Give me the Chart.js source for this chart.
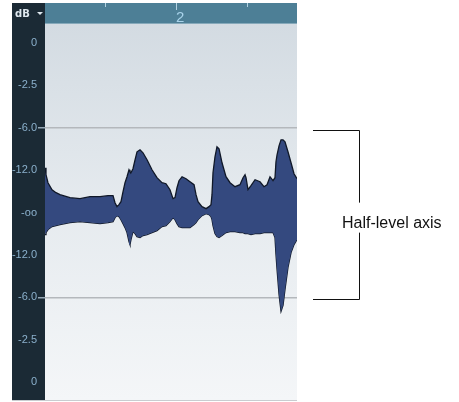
<!DOCTYPE html>
<html><head><meta charset="utf-8">
<script src="https://cdn.jsdelivr.net/npm/chart.js@4.4.0/dist/chart.umd.min.js"></script>
<style>html,body{margin:0;padding:0;background:#fff;overflow:hidden}#wrap{position:relative;width:459px;height:402px}</style>
</head><body><div id="wrap"><canvas id="c" width="459" height="402"></canvas></div>
<script>
// time position in beats (bar 2 starts at beat 4)
const timeBeats = [2.155,2.169,2.197,2.254,2.310,2.366,2.507,2.648,2.789,2.930,3.042,3.113,3.141,3.169,3.197,3.225,3.254,3.282,3.310,3.338,3.352,3.366,3.394,3.423,3.451,3.493,3.535,3.592,3.662,3.732,3.803,3.859,3.915,3.958,3.986,4.014,4.042,4.085,4.141,4.197,4.254,4.282,4.310,4.366,4.423,4.465,4.493,4.507,4.521,4.549,4.577,4.606,4.648,4.704,4.761,4.831,4.901,4.944,4.972,4.986,5.014,5.056,5.113,5.183,5.239,5.282,5.324,5.366,5.394,5.408,5.423,5.451,5.479,5.507,5.535,5.577,5.620,5.662,5.704];
// upper envelope of waveform (display level units, 1 unit per axis step)
const upperLevel = [1.059,0.894,0.706,0.541,0.471,0.424,0.353,0.329,0.376,0.376,0.400,0.400,0.235,0.141,0.188,0.259,0.494,0.706,0.847,1.012,0.965,0.941,1.035,1.247,1.435,1.482,1.412,1.247,1.012,0.824,0.706,0.682,0.541,0.329,0.353,0.588,0.753,0.847,0.800,0.729,0.659,0.424,0.259,0.141,0.094,0.141,0.188,0.424,0.941,1.318,1.553,1.506,1.176,0.847,0.706,0.612,0.659,0.824,0.894,0.824,0.541,0.635,0.776,0.729,0.612,0.659,0.847,0.753,0.824,1.200,1.365,1.576,1.718,1.718,1.671,1.435,1.176,0.918,0.800];
// lower envelope of waveform
const lowerLevel = [-0.518,-0.471,-0.400,-0.329,-0.306,-0.282,-0.235,-0.212,-0.235,-0.259,-0.235,-0.212,-0.118,-0.071,-0.094,-0.165,-0.259,-0.353,-0.471,-0.682,-0.753,-0.635,-0.447,-0.494,-0.565,-0.588,-0.541,-0.518,-0.471,-0.424,-0.329,-0.306,-0.212,-0.118,-0.165,-0.259,-0.329,-0.353,-0.353,-0.353,-0.282,-0.235,-0.165,-0.071,-0.024,-0.047,-0.094,-0.165,-0.306,-0.494,-0.565,-0.588,-0.541,-0.471,-0.447,-0.447,-0.471,-0.471,-0.494,-0.494,-0.494,-0.518,-0.494,-0.494,-0.471,-0.471,-0.471,-0.471,-0.588,-0.988,-1.341,-1.929,-2.329,-2.188,-1.812,-1.294,-0.941,-0.753,-0.635];
// dB axis
const levelTicks = [4,3,2,1,0,-1,-2,-3,-4];
const levelLabels = ['0','-2.5','-6.0','-12.0','-oo','-12.0','-6.0','-2.5','0'];
const halfLevelLines = [2,-2];
// ruler
const rulerBeats = [3,4,5];
const rulerLabels = ['','2',''];
const unitLabel = 'dB';
const annotationText = 'Half-level axis';

const upperPts = timeBeats.map((t,i)=>({x:t,y:upperLevel[i]}));
const lowerPts = timeBeats.map((t,i)=>({x:t,y:lowerLevel[i]}));

const decor = {
  id:'decor',
  beforeDraw(chart){
    const {ctx, chartArea:a, scales:{y}} = chart;
    ctx.save();
    // dark level panel
    ctx.fillStyle = '#1b2a35';
    ctx.fillRect(y.left, 3, a.left - y.left, a.bottom - 3);
    // plot background gradient
    const g = ctx.createLinearGradient(0, a.top, 0, a.bottom);
    g.addColorStop(0, '#d3dbe2');
    g.addColorStop(0.5, '#e6ebef');
    g.addColorStop(1, '#f4f6f8');
    ctx.fillStyle = g;
    ctx.fillRect(a.left, a.top, a.right - a.left, a.bottom - a.top);
    ctx.fillStyle = '#c9ccd0';
    ctx.fillRect(y.left, a.bottom, a.right - y.left, 1);
    ctx.restore();
  },
  afterDraw(chart){
    const {ctx, chartArea:a, scales:{x,y}} = chart;
    ctx.save();
    // ruler header
    ctx.fillStyle = '#4d7f96';
    ctx.fillRect(a.left, 3, a.right - a.left, a.top - 4);
    ctx.fillStyle = '#86a9ba';
    ctx.fillRect(a.left, a.top - 1, a.right - a.left, 1);
    ctx.strokeStyle = '#b3d3e3';
    ctx.lineWidth = 1;
    rulerBeats.forEach((b,i)=>{
      const px = Math.round(x.getPixelForValue(b)) + 0.5;
      ctx.beginPath();
      ctx.moveTo(px, 3);
      ctx.lineTo(px, rulerLabels[i] ? 10 : 7);
      ctx.stroke();
      if (rulerLabels[i]) {
        ctx.fillStyle = '#a9d3ea';
        ctx.font = '15px "Liberation Sans", Arial, sans-serif';
        ctx.textAlign = 'left';
        ctx.textBaseline = 'alphabetic';
        ctx.fillText(rulerLabels[i], px - 0.5, 22);
      }
    });
    // unit label in level panel
    ctx.fillStyle = '#dfe8ef';
    ctx.font = 'bold 10px "DejaVu Sans", sans-serif';
    ctx.textAlign = 'left';
    ctx.textBaseline = 'alphabetic';
    ctx.fillText(unitLabel, y.left + 3, 17);
    ctx.beginPath();
    ctx.moveTo(y.left + 25, 12);
    ctx.lineTo(y.left + 31, 12);
    ctx.lineTo(y.left + 28, 15);
    ctx.closePath();
    ctx.fill();
    // annotation bracket
    const yTop = Math.round(y.getPixelForValue(halfLevelLines[0])) + 2.5;
    const yBot = Math.round(y.getPixelForValue(halfLevelLines[1])) + 2.5;
    const yMid = y.getPixelForValue(0) + 11;
    const xL = a.right + 16, xR = a.right + 62.5;
    ctx.strokeStyle = '#111';
    ctx.beginPath();
    ctx.moveTo(xL, yTop); ctx.lineTo(xR, yTop); ctx.lineTo(xR, yMid - 21);
    ctx.moveTo(xR, yMid + 9); ctx.lineTo(xR, yBot); ctx.lineTo(xL, yBot);
    ctx.stroke();
    ctx.fillStyle = '#111';
    ctx.font = '16px "Liberation Sans", Arial, sans-serif';
    ctx.textBaseline = 'middle';
    ctx.textAlign = 'left';
    ctx.fillText(annotationText, a.right + 45, yMid);
    ctx.restore();
  }
};

new Chart(document.getElementById('c'), {
  type:'line',
  data:{datasets:[
    {data:upperPts, borderColor:'#101828', borderWidth:1.3, backgroundColor:'#34497f', fill:'+1', pointRadius:0, tension:0},
    {data:lowerPts, borderColor:'#101828', borderWidth:1.3, backgroundColor:'#34497f', fill:false, pointRadius:0, tension:0}
  ]},
  options:{
    responsive:false, animation:false, devicePixelRatio:1,
    layout:{padding:{left:12, top:24, right:162, bottom:2}},
    plugins:{legend:{display:false}, tooltip:{enabled:false}},
    scales:{
      x:{type:'linear', min:2.155, max:5.704, display:false},
      y:{type:'linear', min:-4.42, max:4.45, position:'left',
        afterBuildTicks(s){ s.ticks = levelTicks.map(v=>({value:v})); },
        afterFit(s){ s.width = 33; s.paddingTop = 0; s.paddingBottom = 0; },
        border:{display:false},
        grid:{
          color:(c)=> (c.tick && halfLevelLines.includes(c.tick.value)) ? '#b4b8bc' : 'rgba(0,0,0,0)',
          lineWidth:(c)=> (c.tick && halfLevelLines.includes(c.tick.value)) ? 1.5 : 0,
          tickColor:'#95a7b5', tickLength:7, drawTicks:true, drawOnChartArea:true
        },
        ticks:{
          padding:1,
          color:'#8bb0cc',
          font:{family:'"Liberation Sans", Arial, sans-serif', size:11},
          callback:(v)=>{ const i = levelTicks.indexOf(v); return i>=0 ? levelLabels[i] : ''; }
        }
      }
    }
  },
  plugins:[decor]
});
</script></body></html>
